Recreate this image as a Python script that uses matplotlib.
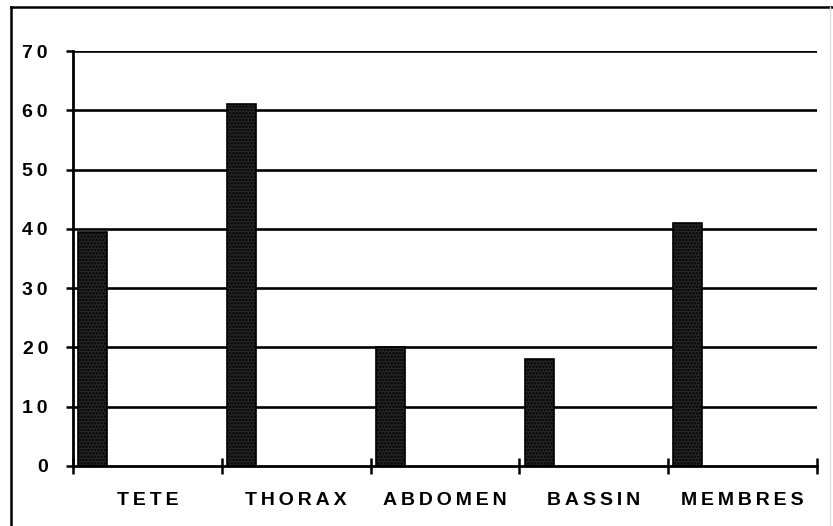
import numpy as np
import matplotlib
matplotlib.use("Agg")
import matplotlib.pyplot as plt
from matplotlib.lines import Line2D

# donnees
categories = ["TETE", "THORAX", "ABDOMEN", "BASSIN", "MEMBRES"]
valeurs = [39.5, 61, 20, 18, 41]
yticks = [0, 10, 20, 30, 40, 50, 60, 70]

plt.rcParams['font.family'] = ['Liberation Sans', 'DejaVu Sans']
plt.rcParams['hatch.linewidth'] = 1.2
plt.rcParams['hatch.color'] = '#c8c8c8'


def espace(txt):
    # lettres espacees comme sur l'original
    return "\u2009".join(txt)


fig = plt.figure(figsize=(8.33, 5.26), dpi=100)
ax = fig.add_axes([0.0876, 0.1141, 0.8932, 0.7889])

x = np.arange(len(categories))
ax.bar(x + 0.035, valeurs, width=0.195, align='edge', color='#262626',
       edgecolor='black', linewidth=1.2, hatch='.....', zorder=3)

for v in yticks[1:]:
    ax.axhline(v, color='black', linewidth=1.9, zorder=1)

ax.set_xlim(0, len(categories))
ax.set_ylim(0, 70)
ax.set_yticks(yticks)
ax.set_yticklabels([espace(str(v)) for v in yticks], fontsize=14, fontweight='bold')

ax.set_xticks(np.arange(len(categories) + 1))
ax.set_xticklabels([])
ax.set_xticks(x + 0.5, minor=True)
ax.set_xticklabels([espace(c) for c in categories], minor=True,
                   fontsize=14, fontweight='bold')
ax.tick_params(axis='x', which='minor', length=0, pad=19)
ax.tick_params(axis='x', which='major', direction='inout', length=12, width=1.8)
ax.tick_params(axis='y', direction='out', length=5, width=1.8, pad=13)

for s in ['top', 'right']:
    ax.spines[s].set_visible(False)
ax.spines['left'].set_linewidth(2.0)
ax.spines['bottom'].set_linewidth(2.0)
ax.spines['left'].set_zorder(4)
ax.spines['bottom'].set_zorder(4)

# cadre autour de la figure
fig.add_artist(Line2D([11/833, 11/833], [0, 1 - 7/526], color='black', linewidth=1.8))
fig.add_artist(Line2D([11/833, 1], [1 - 7/526, 1 - 7/526], color='black', linewidth=1.8))
fig.add_artist(Line2D([830/833, 830/833], [0, 1 - 7/526], color='#dddddd', linewidth=1))

fig.savefig("out.png", dpi=100)
